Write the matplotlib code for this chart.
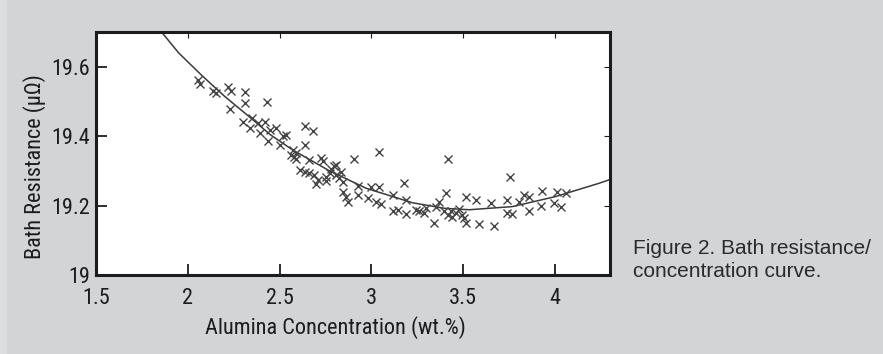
import numpy as np
import matplotlib
matplotlib.use('agg')
import matplotlib.pyplot as plt
from matplotlib import font_manager as fm
from matplotlib.patches import Rectangle

# measured points (alumina wt.%, bath resistance uOhm)
conc = [2.056, 2.069, 2.138, 2.156, 2.219, 2.237, 2.310, 2.310, 2.431, 2.232,
        2.301, 2.337, 2.351, 2.382, 2.391, 2.418, 2.446, 2.478, 2.437, 2.518,
        2.536, 2.500, 2.572, 2.563, 2.581, 2.591, 2.591, 2.641, 2.681, 2.641,
        2.663, 2.726, 2.735, 2.609, 2.636, 2.663, 2.690, 2.708, 2.699, 2.754,
        2.772, 2.781, 2.799, 2.808, 2.826, 2.835, 2.844, 2.754, 2.808, 2.908,
        3.043, 3.420, 3.179, 2.844, 2.862, 2.871, 2.926, 2.926, 2.998, 3.043,
        2.980, 3.025, 3.053, 3.116, 3.116, 3.143, 3.188, 3.188, 3.243, 3.261,
        3.288, 3.297, 3.351, 3.370, 3.406, 3.397, 3.415, 3.433, 3.442, 3.460,
        3.478, 3.496, 3.505, 3.514, 3.342, 3.514, 3.569, 3.587, 3.669, 3.650,
        3.741, 3.754, 3.741, 3.768, 3.804, 3.832, 3.859, 3.859, 3.931, 3.922,
        3.995, 4.031, 4.013, 4.058]
resist = [19.562, 19.550, 19.531, 19.524, 19.541, 19.531, 19.526, 19.495, 19.498, 19.477,
          19.442, 19.423, 19.451, 19.437, 19.408, 19.442, 19.418, 19.423, 19.386, 19.399,
          19.404, 19.375, 19.360, 19.346, 19.341, 19.351, 19.333, 19.429, 19.416, 19.375,
          19.331, 19.336, 19.327, 19.303, 19.298, 19.293, 19.288, 19.274, 19.262, 19.283,
          19.293, 19.305, 19.314, 19.288, 19.279, 19.298, 19.269, 19.272, 19.317, 19.334,
          19.353, 19.335, 19.266, 19.240, 19.226, 19.211, 19.255, 19.231, 19.253, 19.253,
          19.221, 19.211, 19.205, 19.231, 19.183, 19.187, 19.216, 19.176, 19.187, 19.183,
          19.178, 19.192, 19.197, 19.211, 19.237, 19.183, 19.173, 19.183, 19.168, 19.178,
          19.189, 19.173, 19.163, 19.149, 19.149, 19.226, 19.216, 19.147, 19.142, 19.207,
          19.216, 19.281, 19.178, 19.176, 19.211, 19.231, 19.226, 19.183, 19.242, 19.199,
          19.207, 19.197, 19.240, 19.235]

# fitted curve
curve_x = [1.857, 1.95, 2.074, 2.20, 2.337, 2.45, 2.572, 2.772, 2.971, 3.225,
           3.40, 3.533, 3.768, 4.004, 4.239, 4.30]
curve_y = [19.700, 19.640, 19.576, 19.515, 19.455, 19.404, 19.360, 19.300, 19.250, 19.208,
           19.192, 19.188, 19.197, 19.226, 19.264, 19.275]

xticks = [1.5, 2, 2.5, 3, 3.5, 4]
yticks = [19, 19.2, 19.4, 19.6]

# look for a narrow sans (the original uses Helvetica Narrow)
have = {(f.name, f.stretch) for f in fm.fontManager.ttflist}
names = {n for n, s in have}
lab = None
for fam in ['Liberation Sans Narrow', 'Arial Narrow', 'Nimbus Sans Narrow',
            'Roboto Condensed', 'Open Sans Condensed', 'Noto Sans Condensed']:
    if fam in names:
        lab = dict(family=[fam, 'DejaVu Sans'], fontsize=16)
        break
if lab is None:
    for fam in ['DejaVu Sans', 'Noto Sans', 'Roboto', 'Open Sans']:
        if (fam, 'condensed') in have or (fam, 'semi-condensed') in have:
            st = 'condensed' if (fam, 'condensed') in have else 'semi-condensed'
            lab = dict(family=[fam], fontstretch=st, fontsize=16)
            break
if lab is None:
    lab = dict(family=['Liberation Sans', 'DejaVu Sans'], fontsize=14.5)

bg = '#d3d4d6'
ink = '#1c1c1c'

fig = plt.figure(figsize=(8.83, 3.54), dpi=100, facecolor=bg)
fig.patches.append(Rectangle((0, 0), 7 / 883, 1, transform=fig.transFigure,
                             facecolor='#dcdddf', edgecolor='none'))
ax = fig.add_axes([96 / 883, 79 / 354, 514 / 883, 243 / 354])
ax.set_facecolor('white')

ax.plot(curve_x, curve_y, color='#3a3a3a', lw=1.1)
ax.plot(conc, resist, 'x', color='#444444', ms=5.2, mew=1.0)

ax.set_xlim(1.5, 4.3)
ax.set_ylim(19, 19.7)
ax.set_xticks(xticks)
ax.set_xticklabels(['1.5', '2', '2.5', '3', '3.5', '4'], **lab)
ax.set_yticks(yticks)
ax.set_yticklabels(['19', '19.2', '19.4', '19.6'], **lab)

for s in ax.spines.values():
    s.set_linewidth(2.2)
    s.set_color(ink)

ax.tick_params(direction='in', length=8, width=1.3, color=ink,
               top=True, right=True, labelcolor=ink)
ax.tick_params(axis='x', pad=9)
ax.tick_params(axis='y', pad=4)
for t in ax.xaxis.get_major_ticks() + ax.yaxis.get_major_ticks():
    t.tick2line.set_markersize(4)
    t.tick2line.set_markeredgewidth(0.8)

fig.text(335 / 883, 1 - 328 / 354, 'Alumina Concentration (wt.%)', ha='center', va='center',
         color=ink, **lab)
fig.text(35 / 883, 1 - 167 / 354, 'Bath Resistance (\u03bc\u03a9)', ha='center', va='center',
         rotation=90, color=ink, **lab)

cap = dict(fontsize=15, family=['Liberation Sans', 'DejaVu Sans'], color='#2a2a2a')
fig.text(633 / 883, 1 - 254 / 354, 'Figure 2. Bath resistance/', ha='left', va='baseline', **cap)
fig.text(633 / 883, 1 - 277 / 354, 'concentration curve.', ha='left', va='baseline', **cap)

fig.savefig('out.png', dpi=100, facecolor=bg)
